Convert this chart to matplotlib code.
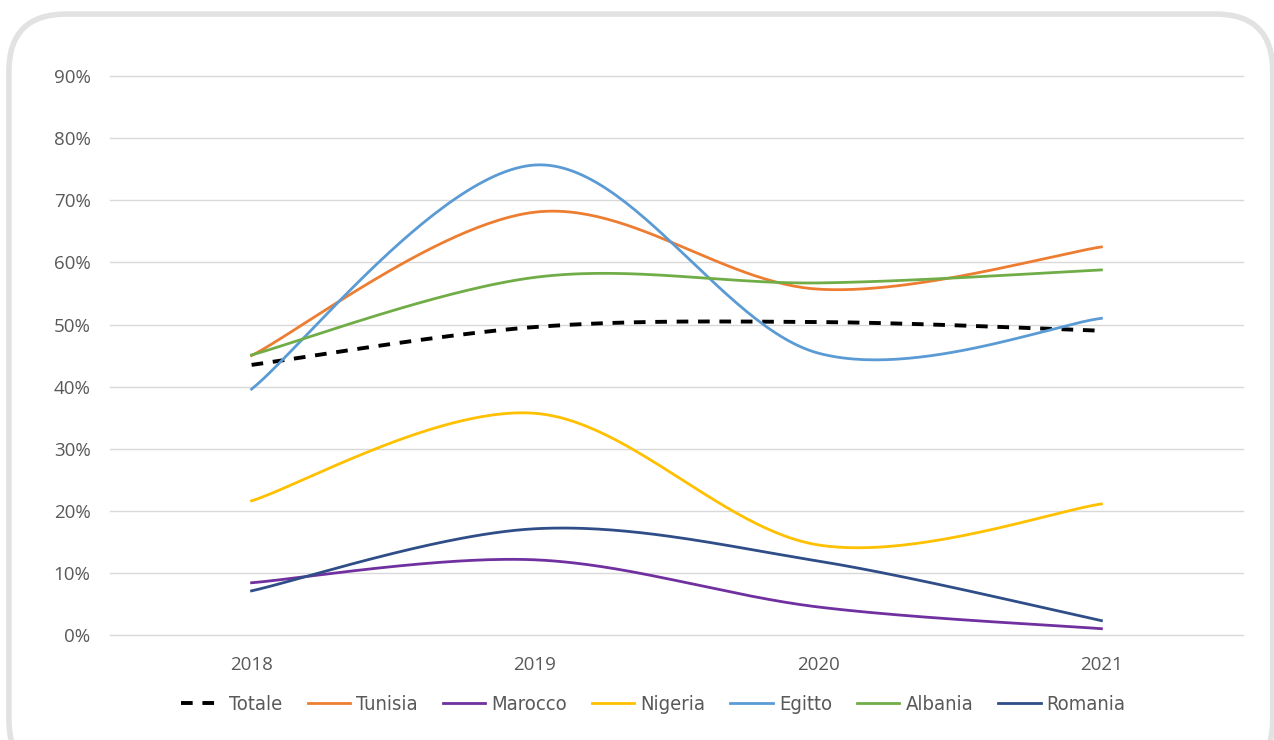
#import python libraries
import numpy as np
import matplotlib.pyplot as plt
from matplotlib.patches import FancyBboxPatch
from matplotlib.font_manager import FontProperties

#data (share, 0-1)
years = [2018, 2019, 2020, 2021]
totale = [0.435, 0.496, 0.504, 0.490]
tunisia = [0.450, 0.681, 0.557, 0.625]
marocco = [0.084, 0.121, 0.045, 0.010]
nigeria = [0.216, 0.357, 0.145, 0.211]
egitto = [0.396, 0.757, 0.454, 0.510]
albania = [0.451, 0.576, 0.567, 0.588]
romania = [0.071, 0.171, 0.119, 0.023]

series = [("Totale", totale, "black"),
          ("Tunisia", tunisia, "#ed7d31"),
          ("Marocco", marocco, "#7030a0"),
          ("Nigeria", nigeria, "#ffc000"),
          ("Egitto", egitto, "#5b9bd5"),
          ("Albania", albania, "#70ad47"),
          ("Romania", romania, "#2f4d87")]


#excel-like smoothed line: cubic bezier through the points
def smooth(x, y, n=60):
    x = np.asarray(x, float)
    y = np.asarray(y, float)
    p = np.column_stack([x, y])
    pts = [p[0]]
    for i in range(len(p) - 1):
        p0 = p[i - 1] if i > 0 else p[i]
        p1 = p[i]
        p2 = p[i + 1]
        p3 = p[i + 2] if i + 2 < len(p) else p[i + 1]
        c1 = p1 + (p2 - p0) / 6
        c2 = p2 - (p3 - p1) / 6
        t = np.linspace(0, 1, n)[1:, None]
        seg = ((1 - t) ** 3) * p1 + 3 * ((1 - t) ** 2) * t * c1 + 3 * (1 - t) * t ** 2 * c2 + t ** 3 * p2
        pts.extend(seg)
    pts = np.array(pts)
    return pts[:, 0], pts[:, 1]


fig = plt.figure(figsize=(12.74, 7.4), dpi=100)
#rounded frame around the chart
frame = FancyBboxPatch((0.007, -0.05), 0.992, 1.031, boxstyle="round,pad=0,rounding_size=0.045",
                       transform=fig.transFigure, facecolor="white", edgecolor="#e2e2e2",
                       linewidth=4, mutation_aspect=1274 / 740, zorder=-5)
fig.patches.append(frame)

ax = fig.add_axes([0.0863, 0.142, 0.8894, 0.755])
ax.set_facecolor("none")
for name, vals, col in series:
    sx, sy = smooth(years, vals)
    if name == "Totale":
        ax.plot(sx, sy, color=col, lw=2.8, ls=(0, (3, 2.5)), label=name, zorder=3)
    else:
        ax.plot(sx, sy, color=col, lw=2.0, label=name, zorder=3)

ax.set_xlim(2017.5, 2021.5)
ax.set_ylim(0, 0.9)
ax.set_yticks(np.arange(0, 0.91, 0.1))
ax.set_yticklabels([f"{int(round(v * 100))}%" for v in np.arange(0, 0.91, 0.1)])
ax.set_xticks(years)
ax.set_xticklabels([str(y) for y in years])
ax.grid(axis="y", color="#d9d9d9", lw=1)
for gl in ax.get_ygridlines():
    gl.set_clip_on(False)
ax.set_axisbelow(True)
for s in ax.spines.values():
    s.set_visible(False)
ax.tick_params(length=0, labelsize=13.5, labelcolor="#595959")
ax.tick_params(axis="y", pad=14)
ax.tick_params(axis="x", pad=15)
for lab in ax.get_xticklabels() + ax.get_yticklabels():
    lab.set_family("Open Sans")

legfont = FontProperties(family="DejaVu Sans", stretch="condensed", size=14.5)
leg = ax.legend(loc="center", bbox_to_anchor=(0.4795, -0.125), ncol=7, frameon=False,
                handlelength=2.1, handletextpad=0.3, columnspacing=1.25,
                prop=legfont)
for t in leg.get_texts():
    t.set_color("#595959")

fig.savefig("out.png", dpi=100)
